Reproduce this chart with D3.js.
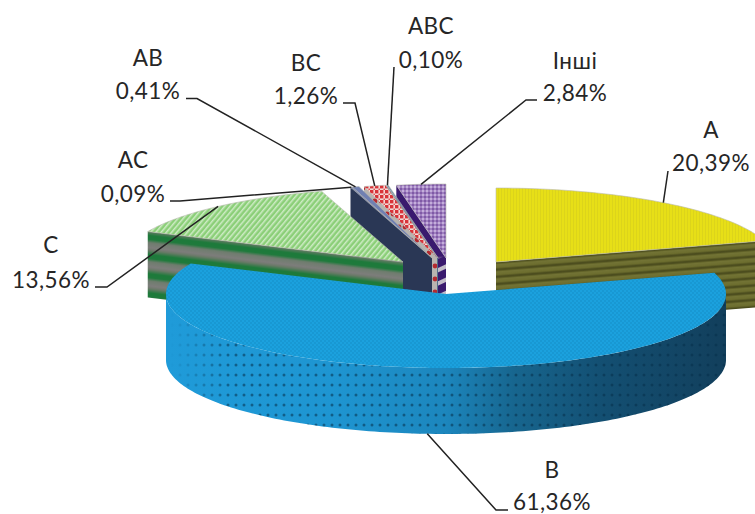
<!DOCTYPE html>
<html>
<head>
<meta charset="utf-8">
<style>
html,body{margin:0;padding:0;background:#fff;}
svg{display:block;}
text{font-family:Lato,"Open Sans",sans-serif;font-size:22.5px;letter-spacing:0.45px;fill:#262626;text-anchor:middle;}
</style>
<script src="https://cdn.jsdelivr.net/npm/d3@7/dist/d3.min.js"></script>
</head>
<body>
<svg id="chart" width="755" height="514"></svg>
<script>
// Shares of each group, clockwise from twelve o'clock
const categories = ["A", "B", "C", "AC", "AB", "BC", "ABC", "Інші"];
const shares = [20.39, 61.36, 13.56, 0.09, 0.41, 1.26, 0.10, 2.84];
const shareLabels = ["20,39%", "61,36%", "13,56%", "0,09%", "0,41%", "1,26%", "0,10%", "2,84%"];

// Ellipse of the tilted disc and thickness of the extrusion
const RX = 280, RY = 74, DEPTH = 66;

// Apex of each exploded wedge on the page
const apexes = {
  "A": [496, 262], "B": [446, 294], "C": [403, 262], "AC": [432, 258],
  "AB": [432, 258], "BC": [437, 258], "ABC": [438, 258], "Інші": [446, 258]
};

// Back wedges are painted first so the nearer ones cover them
const paintOrder = ["A", "Інші", "ABC", "BC", "AB", "AC", "C", "B"];

// Label anchors: centre x, baseline of the name, baseline of the value, leader elbow points
const labelLayout = {
  "A":    {x: 711, name: 138, value: 171, from: [668, 171], elbow: [668, 171]},
  "B":    {x: 552, name: 478, value: 510, from: [508, 510], elbow: [496, 510], lower: true},
  "C":    {x: 51,  name: 253, value: 288, from: [95, 287],  elbow: [107, 287]},
  "AC":   {x: 133, name: 168, value: 202, from: [170, 201], elbow: [180, 201]},
  "AB":   {x: 148, name: 66,  value: 99,  from: [186, 98.5], elbow: [197, 98.5]},
  "BC":   {x: 306, name: 71,  value: 104, from: [343, 103], elbow: [355, 103]},
  "ABC":  {x: 431, name: 34,  value: 68,  from: [394, 67],  elbow: [394, 67]},
  "Інші": {x: 575, name: 69,  value: 101, from: [537, 100], elbow: [526, 100]}
};

const svg = d3.select("#chart");
const defs = svg.append("defs");

// Builds a tile pattern; draw() adds the shapes of one tile
function tile(id, w, h, bg, draw, transform) {
  const p = defs.append("pattern").attr("id", id)
    .attr("patternUnits", "userSpaceOnUse").attr("width", w).attr("height", h);
  if (transform) p.attr("patternTransform", transform);
  if (bg) p.append("rect").attr("width", w).attr("height", h).attr("fill", bg);
  draw(p);
}

// Vertical colour ramp used for the soft bands on the striped walls
function band(id, stops) {
  const g = defs.append("linearGradient").attr("id", id).attr("x1", 0).attr("x2", 0).attr("y1", 0).attr("y2", 1);
  stops.forEach(([o, c]) => g.append("stop").attr("offset", o).attr("stop-color", c));
}

// Fades an overlay in along one axis, between two page coordinates
function fadeMask(id, axis, from, to) {
  const g = defs.append("linearGradient").attr("id", id + "Ramp").attr("gradientUnits", "userSpaceOnUse")
    .attr(axis + "1", from).attr(axis + "2", to);
  g.attr(axis === "x" ? "y1" : "x1", 0).attr(axis === "x" ? "y2" : "x2", 0);
  g.append("stop").attr("offset", 0).attr("stop-color", "#000");
  g.append("stop").attr("offset", 1).attr("stop-color", "#fff");
  defs.append("mask").attr("id", id).attr("maskUnits", "userSpaceOnUse")
    .attr("x", 0).attr("y", 0).attr("width", 755).attr("height", 514)
    .append("rect").attr("width", 755).attr("height", 514).attr("fill", `url(#${id}Ramp)`);
}

band("bandA", [[0, "#737436"], [0.45, "#6c6d2e"], [0.75, "#43441a"], [1, "#6c6d2e"]]);
band("bandC", [[0, "#7c7c7a"], [0.12, "#6a7a68"], [0.35, "#1c7a3a"], [0.55, "#1f7a3c"], [0.72, "#6f7c6e"], [1, "#7e7e7c"]]);

tile("topA", 3, 3, "#e7df17", p => p.append("rect").attr("width", 1).attr("height", 3).attr("fill", "#dcd41b"));
tile("wallA", 8, 7.2, null, p => p.append("rect").attr("width", 8).attr("height", 7.2).attr("fill", "url(#bandA)"), "rotate(-4.5)");
tile("topB", 4, 4, "#1ba1de", p => {
  p.append("rect").attr("width", 2).attr("height", 2).attr("fill", "#1898d3");
  p.append("rect").attr("x", 2).attr("y", 2).attr("width", 2).attr("height", 2).attr("fill", "#1898d3");
});
tile("dotsB", 8, 10, null, p => p.append("circle").attr("cx", 4).attr("cy", 5).attr("r", 1.5).attr("fill", "#06304a").attr("opacity", 0.55));
tile("topC", 4, 4, "#8bcf78", p => p.append("rect").attr("width", 1.5).attr("height", 4).attr("fill", "#cfecc6"), "rotate(40)");
tile("wallC", 8, 19, null, p => p.append("rect").attr("width", 8).attr("height", 19).attr("fill", "url(#bandC)"), "rotate(7)");
tile("topBC", 5, 5, "#f3d8d4", p => {
  p.append("rect").attr("width", 3.4).attr("height", 3.4).attr("fill", "#d8343a");
  p.append("circle").attr("cx", 4.2).attr("cy", 4.2).attr("r", 0.8).attr("fill", "#d8343a");
});
tile("wallBC", 6, 13, "#b9b4b0", p => p.append("circle").attr("cx", 3).attr("cy", 6).attr("r", 2.4).attr("fill", "#b42a30"));
tile("topOther", 4, 4, "#a07fc0", p => {
  p.append("rect").attr("width", 2).attr("height", 2).attr("fill", "#7f5aa6");
  p.append("rect").attr("x", 2).attr("y", 2).attr("width", 2).attr("height", 2).attr("fill", "#c4aedb");
});
tile("stripesOther", 8, 12, null, p => p.append("rect").attr("y", 8).attr("width", 8).attr("height", 4).attr("fill", "#c2bcc8"), "rotate(-25)");

fadeMask("dotsFade", "x", 170, 232);
fadeMask("stripesFade", "y", 256, 262);

// Shading of B's curved side, bright on the left and deep teal on the right
const sideB = defs.append("linearGradient").attr("id", "sideB")
  .attr("gradientUnits", "userSpaceOnUse").attr("x1", 166).attr("x2", 726).attr("y1", 0).attr("y2", 0);
[[0, "#1f9bd9"], [0.3, "#1e95d1"], [0.5, "#1c86bd"], [0.62, "#17668f"], [0.78, "#134f72"], [1, "#123f5c"]]
  .forEach(([o, c]) => sideB.append("stop").attr("offset", o).attr("stop-color", c));

const styles = {
  "A":    {top: "url(#topA)", wall: "url(#wallA)", curve: "#5c5d24"},
  "B":    {top: "url(#topB)", wall: "#1c86bd", curve: "url(#sideB)", overlay: "url(#dotsB)", mask: "url(#dotsFade)"},
  "C":    {top: "url(#topC)", wall: "url(#wallC)", curve: "#7a7a78"},
  "AC":   {top: "#7583b6", wall: "#2a3755", curve: "#2a3755"},
  "AB":   {top: "#7080b2", wall: "#2a3755", curve: "#2a3755"},
  "BC":   {top: "url(#topBC)", wall: "url(#wallBC)", curve: "#b9b4b0"},
  "ABC":  {top: "#6d8ca6", wall: "#54708a", curve: "#54708a"},
  "Інші": {top: "url(#topOther)", wall: "#3a1a6e", curve: "#3a1a6e", overlay: "url(#stripesOther)", mask: "url(#stripesFade)"}
};

// Wedge angles come straight from the shares, in order
const wedges = d3.pie().value(d => d).sort(null)(shares);
const byName = new Map(categories.map((c, i) => [c, {name: c, share: shares[i], label: shareLabels[i], a0: wedges[i].startAngle, a1: wedges[i].endAngle}]));

// Project a disc angle onto the page relative to a wedge's apex
const rimPoint = (apex, a, drop = 0) => [apex[0] + RX * Math.sin(a), apex[1] - RY * Math.cos(a) + drop];
const line = d3.line();
const arcSamples = (a0, a1) => {
  const n = Math.max(2, Math.ceil(Math.abs(a1 - a0) / 0.02));
  return d3.range(n + 1).map(i => a0 + (a1 - a0) * i / n);
};

const plot = svg.append("g");

// Fills a side face and lays the wedge's texture overlay on top of it
function face(g, d, fill, st) {
  g.append("path").attr("d", d).attr("fill", fill);
  if (st.overlay) g.append("path").attr("d", d).attr("fill", st.overlay).attr("mask", st.mask);
}

function drawRadialWall(g, apex, a, st) {
  const rim = rimPoint(apex, a);
  face(g, line([apex, rim, [rim[0], rim[1] + DEPTH], [apex[0], apex[1] + DEPTH]]) + "Z", st.wall, st);
}

paintOrder.forEach(name => {
  const w = byName.get(name), apex = apexes[name], st = styles[name];
  const g = plot.append("g").attr("class", "wedge");

  // Radial side faces are visible only when they turn toward the viewer
  if (Math.sin(w.a0) < -1e-6) drawRadialWall(g, apex, w.a0, st);
  if (Math.sin(w.a1) > 1e-6) drawRadialWall(g, apex, w.a1, st);

  // Curved outer side over the part of the rim facing the viewer
  const c0 = Math.max(w.a0, Math.PI / 2), c1 = Math.min(w.a1, 3 * Math.PI / 2);
  if (c1 > c0) {
    const angles = arcSamples(c0, c1);
    const pts = angles.map(a => rimPoint(apex, a)).concat(angles.slice().reverse().map(a => rimPoint(apex, a, DEPTH)));
    face(g, line(pts) + "Z", st.curve, st);
  }

  // Top face
  const top = [apex].concat(arcSamples(w.a0, w.a1).map(a => rimPoint(apex, a)));
  g.append("path").attr("d", line(top) + "Z").attr("fill", st.top)
    .attr("stroke", name === "B" ? "none" : "#b8b8b0").attr("stroke-width", 0.6);
});

// Leader lines run from each label to the middle of its wedge's rim
const leaders = svg.append("g").attr("fill", "none").attr("stroke", "#222").attr("stroke-width", 1.5);
const labels = svg.append("g");
categories.forEach(name => {
  const w = byName.get(name), lay = labelLayout[name];
  const mid = (w.a0 + w.a1) / 2;
  const tip = rimPoint(apexes[name], mid, lay.lower ? DEPTH : 0);
  leaders.append("path").attr("d", line([lay.from, lay.elbow, tip]));
  labels.append("text").attr("x", lay.x).attr("y", lay.name).text(name);
  labels.append("text").attr("x", lay.x).attr("y", lay.value).text(w.label);
});
</script>
</body>
</html>
